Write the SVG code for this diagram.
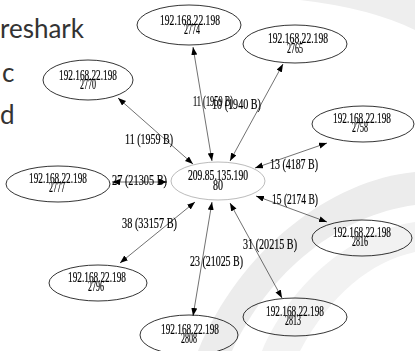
<svg xmlns="http://www.w3.org/2000/svg" width="415" height="351" viewBox="0 0 415 351">
  <style>
    .slide { font-family: "Lato", "Open Sans", sans-serif; font-size: 26px; fill: #333333; }
    .node { filter: url(#mono); }
    .node ellipse { fill: none; stroke: #000000; stroke-width: 0.8; }
    #n_server ellipse { stroke: #aaaaaa; }
    .lbl { font-family: "Liberation Serif", "Times New Roman", serif; font-size: 14px; fill: #000000; stroke: #000000; stroke-width: 0.2; text-anchor: middle; }
    .elbl { font-family: "Liberation Serif", "Times New Roman", serif; font-size: 15px; fill: #000000; stroke: #000000; stroke-width: 0.2; }
    #labels { filter: url(#mono); }
    .edge { stroke: #333333; stroke-width: 0.7; fill: none; marker-start: url(#tip); marker-end: url(#tip); }
  </style>
  <defs>
    <!-- grayscale pass so the squeezed glyphs keep neutral edges -->
    <filter id="mono" x="-10%" y="-10%" width="120%" height="120%">
      <feColorMatrix type="saturate" values="0"/>
    </filter>
    <marker id="tip" markerUnits="userSpaceOnUse" markerWidth="9" markerHeight="7" refX="8" refY="3" orient="auto-start-reverse">
      <path d="M0,0 L8,3 L0,6 Z" fill="#000000"/>
    </marker>
  </defs>

  <!-- slide background -->
  <rect width="415" height="351" fill="#ffffff"/>
  <path d="M300,0 Q370,8 415,30 L415,0 Z" fill="#eeeeee"/>
  <path d="M415,172 C330,180 240,250 198,351 L232,351 C270,270 340,215 415,205 Z" fill="#ececec"/>
  <path d="M415,222 C350,232 290,285 262,351 L300,351 C330,295 370,262 415,252 Z" fill="#f2f2f2"/>

  <!-- slide text -->
  <text class="slide" x="0" y="38">reshark</text>
  <text class="slide" x="2" y="82">c</text>
  <text class="slide" x="0" y="124">d</text>

  <!-- connectors -->
  <g id="edges">
    <line class="edge" x1="118" y1="98" x2="193" y2="164"/>
    <line class="edge" x1="193" y1="47" x2="212" y2="161"/>
    <line class="edge" x1="283" y1="64" x2="230" y2="161"/>
    <line class="edge" x1="327" y1="143" x2="255" y2="168"/>
    <line class="edge" x1="112" y1="182" x2="167" y2="182"/>
    <line class="edge" x1="327" y1="222" x2="256" y2="196"/>
    <line class="edge" x1="120" y1="263" x2="195" y2="202"/>
    <line class="edge" x1="193" y1="316" x2="212" y2="202"/>
    <line class="edge" x1="282" y1="298" x2="230" y2="203"/>
    <g id="labels">
      <text class="elbl" x="125" y="144" textLength="48" lengthAdjust="spacingAndGlyphs">11 (1959 B)</text>
      <text class="elbl" x="193" y="106" textLength="40" lengthAdjust="spacingAndGlyphs">11 (1959 B)</text>
      <text class="elbl" x="212" y="109" textLength="49" lengthAdjust="spacingAndGlyphs">10 (1940 B)</text>
      <text class="elbl" x="270" y="169" textLength="48" lengthAdjust="spacingAndGlyphs">13 (4187 B)</text>
      <text class="elbl" x="272" y="204" textLength="46" lengthAdjust="spacingAndGlyphs">15 (2174 B)</text>
      <text class="elbl" x="112" y="185" textLength="55" lengthAdjust="spacingAndGlyphs">27 (21305 B)</text>
      <text class="elbl" x="122" y="228" textLength="55" lengthAdjust="spacingAndGlyphs">38 (33157 B)</text>
      <text class="elbl" x="190" y="266" textLength="53" lengthAdjust="spacingAndGlyphs">23 (21025 B)</text>
      <text class="elbl" x="243" y="249" textLength="54" lengthAdjust="spacingAndGlyphs">31 (20215 B)</text>
    </g>
  </g>

  <!-- nodes -->
  <g id="n_server" class="node">
    <ellipse cx="218" cy="181" rx="47" ry="19"/>
    <text class="lbl" x="218" y="180" textLength="60" lengthAdjust="spacingAndGlyphs">209.85.135.190</text>
    <text class="lbl" x="218" y="190" textLength="10" lengthAdjust="spacingAndGlyphs">80</text>
  </g>
  <g id="n_2774" class="node">
    <ellipse cx="189" cy="25" rx="52" ry="20"/>
    <text class="lbl" x="190" y="25" textLength="60" lengthAdjust="spacingAndGlyphs">192.168.22.198</text>
    <text class="lbl" x="192" y="34" textLength="16" lengthAdjust="spacingAndGlyphs">2774</text>
  </g>
  <g id="n_2765" class="node">
    <ellipse cx="295" cy="44" rx="52" ry="19"/>
    <text class="lbl" x="298" y="43" textLength="60" lengthAdjust="spacingAndGlyphs">192.168.22.198</text>
    <text class="lbl" x="295" y="53" textLength="16" lengthAdjust="spacingAndGlyphs">2765</text>
  </g>
  <g id="n_2770" class="node">
    <ellipse cx="88" cy="80" rx="45" ry="20"/>
    <text class="lbl" x="88" y="80" textLength="58" lengthAdjust="spacingAndGlyphs">192.168.22.198</text>
    <text class="lbl" x="88" y="89" textLength="16" lengthAdjust="spacingAndGlyphs">2770</text>
  </g>
  <g id="n_2758" class="node">
    <ellipse cx="363" cy="124" rx="51" ry="18"/>
    <text class="lbl" x="362" y="123" textLength="58" lengthAdjust="spacingAndGlyphs">192.168.22.198</text>
    <text class="lbl" x="360" y="132" textLength="16" lengthAdjust="spacingAndGlyphs">2758</text>
  </g>
  <g id="n_2777" class="node">
    <ellipse cx="58" cy="184" rx="52" ry="18"/>
    <text class="lbl" x="58" y="183" textLength="58" lengthAdjust="spacingAndGlyphs">192.168.22.198</text>
    <text class="lbl" x="57" y="192" textLength="16" lengthAdjust="spacingAndGlyphs">2777</text>
  </g>
  <g id="n_2816" class="node">
    <ellipse cx="362" cy="238" rx="50" ry="18"/>
    <text class="lbl" x="362" y="237" textLength="58" lengthAdjust="spacingAndGlyphs">192.168.22.198</text>
    <text class="lbl" x="360" y="246" textLength="16" lengthAdjust="spacingAndGlyphs">2816</text>
  </g>
  <g id="n_2813" class="node">
    <ellipse cx="295" cy="317" rx="52" ry="19"/>
    <text class="lbl" x="295" y="316" textLength="58" lengthAdjust="spacingAndGlyphs">192.168.22.198</text>
    <text class="lbl" x="293" y="325" textLength="16" lengthAdjust="spacingAndGlyphs">2813</text>
  </g>
  <g id="n_2808" class="node">
    <ellipse cx="189" cy="335" rx="49" ry="20"/>
    <text class="lbl" x="190" y="334" textLength="58" lengthAdjust="spacingAndGlyphs">192.168.22.198</text>
    <text class="lbl" x="189" y="343" textLength="16" lengthAdjust="spacingAndGlyphs">2808</text>
  </g>
  <g id="n_2796" class="node">
    <ellipse cx="98" cy="283" rx="49" ry="18"/>
    <text class="lbl" x="97" y="282" textLength="58" lengthAdjust="spacingAndGlyphs">192.168.22.198</text>
    <text class="lbl" x="96" y="291" textLength="16" lengthAdjust="spacingAndGlyphs">2796</text>
  </g>
</svg>
